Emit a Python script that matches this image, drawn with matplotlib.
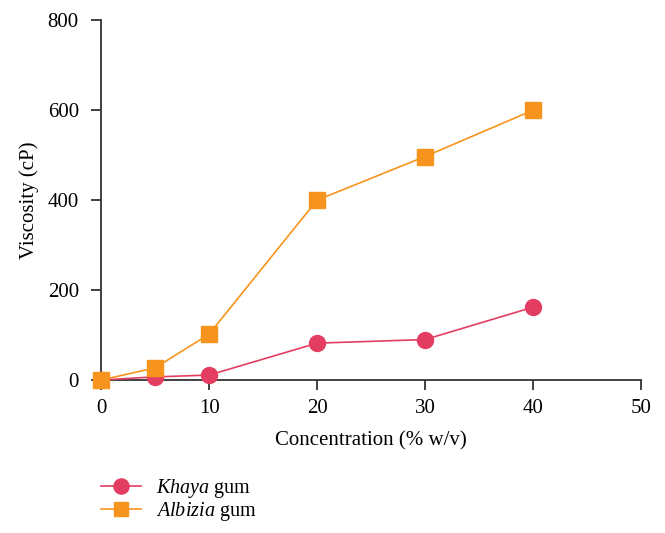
import matplotlib
matplotlib.use("Agg")
import matplotlib.pyplot as plt

conc = [0, 5, 10, 20, 30, 40]
khaya = [0, 7, 11, 82, 90, 162]
albizia = [0, 27, 102, 400, 497, 600]

plt.rcParams['font.family'] = ['Liberation Serif', 'DejaVu Serif']
plt.rcParams['mathtext.fontset'] = 'custom'
plt.rcParams['mathtext.it'] = 'Liberation Serif:italic'
plt.rcParams['mathtext.rm'] = 'Liberation Serif'

fig = plt.figure(figsize=(6.65, 5.33), dpi=100)
ax = fig.add_axes([0.152, 0.287, 0.812, 0.675])

l1, = ax.plot(conc, khaya, color='#E33E62', marker='o', markersize=11.5,
              linewidth=1.2, clip_on=False, zorder=3)
l2, = ax.plot(conc, albizia, color='#F7941D', marker='s', markersize=11,
              linewidth=1.2, clip_on=False, zorder=4)

ax.set_xlim(0, 50)
ax.set_ylim(0, 800)
ax.set_xticks([0, 10, 20, 30, 40, 50])
ax.set_yticks([0, 200, 400, 600, 800])
ax.spines['top'].set_visible(False)
ax.spines['right'].set_visible(False)
for s in ['left', 'bottom']:
    ax.spines[s].set_linewidth(1.3)
    ax.spines[s].set_color('#333333')
ax.tick_params(direction='out', length=7, width=1.3, color='#333333',
               labelsize=15)
ax.tick_params(axis='y', pad=9)
ax.tick_params(axis='x', pad=7)

ax.set_xlabel("Concentration (% w/v)", fontsize=15, labelpad=9)
ax.set_ylabel("Viscosity (cP)", fontsize=15, labelpad=6)

fig.legend([l1, l2], [r"$\it{Khaya}$ gum", r"$\it{Albizia}$ gum"],
           loc='upper left', bbox_to_anchor=(0.14, 0.12), frameon=False,
           fontsize=14.5, handlelength=2.0, handletextpad=0.7, labelspacing=0.0,
           borderaxespad=0, markerscale=0.95)

fig.savefig("out.png", dpi=100)
